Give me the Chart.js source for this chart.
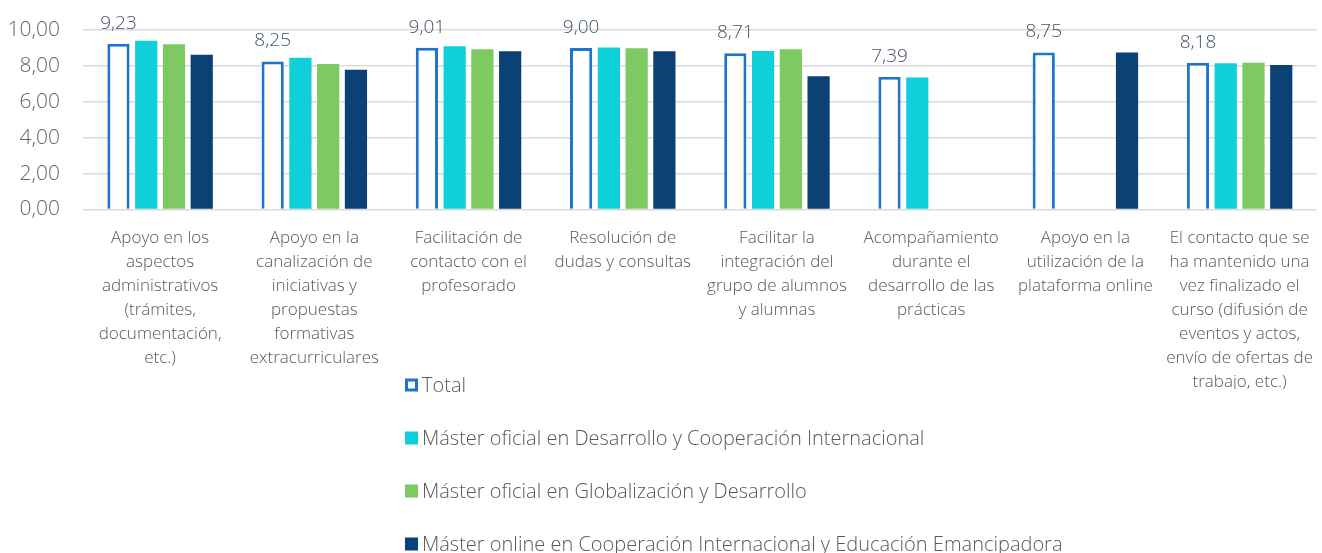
<!DOCTYPE html>
<html>
<head>
<meta charset="utf-8">
<script src="https://cdn.jsdelivr.net/npm/chart.js@4"></script>
<style>
  html, body { margin: 0; padding: 0; background: #fff; }
  #wrap { width: 1322px; height: 553px; }
</style>
</head>
<body>
<div id="wrap"><canvas id="chart" width="1322" height="553"></canvas></div>
<script>
const categories = [
  ["Apoyo en los", "aspectos", "administrativos", "(trámites,", "documentación,", "etc.)"],
  ["Apoyo en la", "canalización de", "iniciativas y", "propuestas", "formativas", "extracurriculares"],
  ["Facilitación de", "contacto con el", "profesorado"],
  ["Resolución de", "dudas y consultas"],
  ["Facilitar la", "integración del", "grupo de alumnos", "y alumnas"],
  ["Acompañamiento", "durante el", "desarrollo de las", "prácticas"],
  ["Apoyo en la", "utilización de la", "plataforma online"],
  ["El contacto que se", "ha mantenido una", "vez finalizado el", "curso (difusión de", "eventos y actos,", "envío de ofertas de", "trabajo, etc.)"]
];

const seriesNames = [
  "Total",
  "Máster oficial en Desarrollo y Cooperación Internacional",
  "Máster oficial en Globalización y Desarrollo",
  "Máster online en Cooperación Internacional y Educación Emancipadora"
];

const total      = [9.23, 8.25, 9.01, 9.00, 8.71, 7.39, 8.75, 8.18];
const desarrollo = [9.40, 8.45, 9.10, 9.02, 8.83, 7.36, null, 8.15];
const globaliz   = [9.20, 8.10, 8.93, 8.98, 8.93, null, null, 8.18];
const online     = [8.62, 7.78, 8.81, 8.81, 7.42, null, 8.74, 8.05];

const yTicks = [0, 2, 4, 6, 8, 10];

const FONT = "'Open Sans', 'Noto Sans', sans-serif";
const GREY = "#595959";
const fmt = v => v.toFixed(2).replace(".", ",");

// value labels above the Total bars
const totalLabels = {
  id: "totalLabels",
  afterDatasetsDraw(chart) {
    const { ctx } = chart;
    const meta = chart.getDatasetMeta(0);
    ctx.save();
    ctx.font = "300 19px " + FONT;
    ctx.fillStyle = "#44546a";
    ctx.textAlign = "center";
    ctx.textBaseline = "bottom";
    meta.data.forEach((bar, i) => {
      if (total[i] == null) return;
      ctx.fillText(fmt(total[i]), bar.x, bar.y - 11);
    });
    ctx.restore();
  }
};

// one legend entry per row, below the axis labels
const stackedLegend = {
  id: "stackedLegend",
  afterDraw(chart) {
    const { ctx } = chart;
    const x0 = 405, y0 = 385, step = 53, box = 13;
    ctx.save();
    ctx.font = "300 20px " + FONT;
    ctx.textBaseline = "middle";
    chart.data.datasets.forEach((ds, i) => {
      const y = y0 + i * step;
      if (ds.backgroundColor === "#ffffff") {
        ctx.fillStyle = "#ffffff";
        ctx.fillRect(x0, y - box / 2, box, box);
        ctx.strokeStyle = ds.borderColor;
        ctx.lineWidth = 3;
        ctx.strokeRect(x0 + 1.5, y - box / 2 + 1.5, box - 3, box - 3);
      } else {
        ctx.fillStyle = ds.backgroundColor;
        ctx.fillRect(x0, y - box / 2, box, box);
      }
      ctx.fillStyle = GREY;
      ctx.fillText(ds.label, x0 + box + 4, y + 1);
    });
    ctx.restore();
  }
};

new Chart(document.getElementById("chart").getContext("2d"), {
  type: "bar",
  data: {
    labels: categories,
    datasets: [
      { label: seriesNames[0], data: total, backgroundColor: "#ffffff", borderColor: "#1f74cc", borderWidth: 3 },
      { label: seriesNames[1], data: desarrollo, backgroundColor: "#0fd0d8" },
      { label: seriesNames[2], data: globaliz, backgroundColor: "#7dc962" },
      { label: seriesNames[3], data: online, backgroundColor: "#0b4174" }
    ]
  },
  options: {
    responsive: false,
    animation: false,
    layout: { padding: { top: 30, right: 0, bottom: 164, left: 0 } },
    datasets: {
      bar: { categoryPercentage: 0.72, barPercentage: 0.8 }
    },
    plugins: {
      legend: { display: false },
      tooltip: { enabled: false }
    },
    scales: {
      x: {
        grid: { display: false },
        border: { display: false },
        ticks: {
          color: GREY,
          font: { family: FONT, size: 17, weight: 300, lineHeight: 1.41 },
          maxRotation: 0,
          autoSkip: false,
          padding: 9
        }
      },
      y: {
        min: 0,
        max: 10,
        afterBuildTicks: axis => { axis.ticks = yTicks.map(v => ({ value: v })); },
        afterFit: axis => {
          axis.width = 83;
          axis.paddingTop = 0;
          axis.paddingBottom = 0;
        },
        grid: { color: "#d9d9d9", lineWidth: 1.5, drawTicks: false },
        border: { display: false },
        ticks: {
          color: "#666666",
          font: { family: FONT, size: 21, weight: 300 },
          padding: 23,
          callback: v => fmt(v)
        }
      }
    }
  },
  plugins: [totalLabels, stackedLegend]
});
</script>
</body>
</html>
